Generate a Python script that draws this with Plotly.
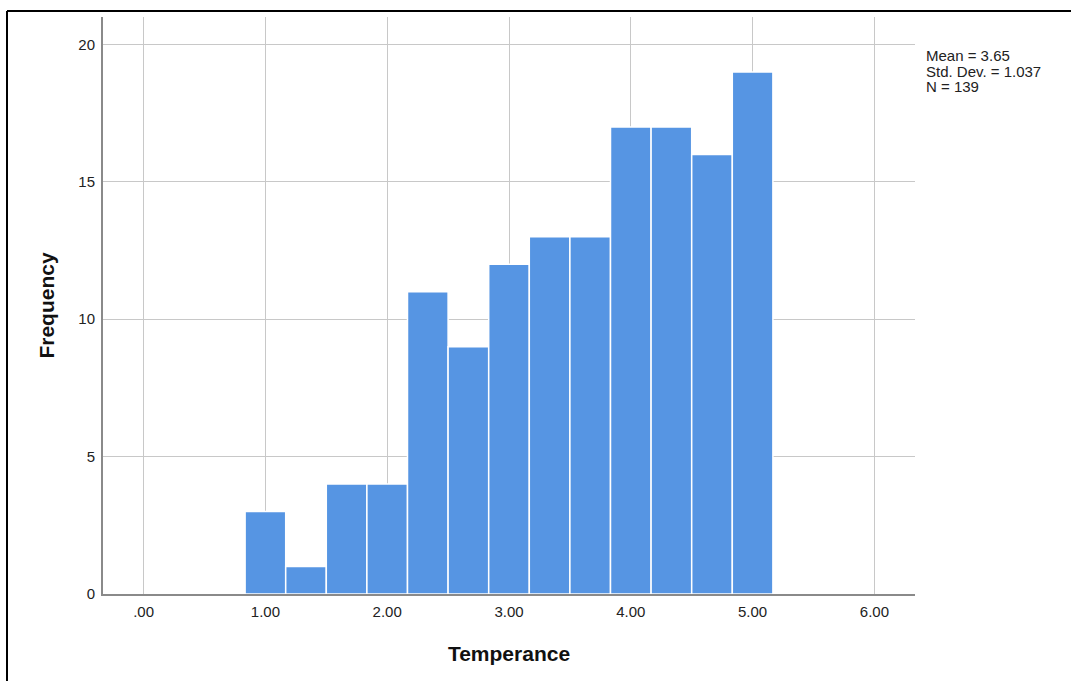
import plotly.graph_objects as go

bin_centers = [1.0, 4/3, 5/3, 2.0, 7/3, 8/3, 3.0, 10/3, 11/3, 4.0, 13/3, 14/3, 5.0]
frequencies = [3, 1, 4, 4, 11, 9, 12, 13, 13, 17, 17, 16, 19]
bin_width = 1/3
x_tick_vals = [0, 1, 2, 3, 4, 5, 6]
x_tick_text = [".00", "1.00", "2.00", "3.00", "4.00", "5.00", "6.00"]
y_tick_vals = [0, 5, 10, 15, 20]
stats_lines = ["Mean = 3.65", "Std. Dev. = 1.037", "N = 139"]

fig = go.Figure()
fig.add_trace(go.Bar(
    x=bin_centers, y=frequencies, width=bin_width,
    marker=dict(color="rgb(86,149,227)", line=dict(color="white", width=1.5)),
    showlegend=False,
))

font_family = "Liberation Sans, Arial, sans-serif"
fig.update_layout(
    width=1071, height=681,
    margin=dict(l=103, r=156, t=17, b=87),
    paper_bgcolor="white", plot_bgcolor="white",
    font=dict(family=font_family, size=15, color="#222"),
    xaxis=dict(
        range=[-1/3, 19/3], tickvals=x_tick_vals, ticktext=x_tick_text,
        showgrid=True, gridcolor="#c8c8c8", gridwidth=1,
        showline=True, linecolor="#8a8a8a", linewidth=2,
        ticks="outside", ticklen=3, tickcolor="rgba(0,0,0,0)",
        zeroline=False,
        title=dict(text="Temperance", font=dict(size=21, color="#111", family="Liberation Sans, Arial", weight="bold"), standoff=27),
    ),
    yaxis=dict(
        range=[0, 21], tickvals=y_tick_vals,
        showgrid=True, gridcolor="#c8c8c8", gridwidth=1,
        showline=True, linecolor="#8a8a8a", linewidth=2,
        ticks="outside", ticklen=3, tickcolor="rgba(0,0,0,0)",
        zeroline=False,
        title=dict(text="Frequency", font=dict(size=21, color="#111", family="Liberation Sans, Arial", weight="bold"), standoff=18),
    ),
)

for i, line in enumerate(stats_lines):
    fig.add_annotation(
        xref="paper", yref="paper", x=(924 - 103) / 812, y=(594 - (56 + 15 * i)) / 577,
        xanchor="left", yanchor="middle", showarrow=False,
        text=line, font=dict(size=15, color="#222", family=font_family),
    )

# outer frame (top and left edges)
fig.add_shape(type="line", xref="paper", yref="paper",
              x0=(7 - 103) / 812, x1=1.3, y0=(594 - 11) / 577, y1=(594 - 11) / 577,
              line=dict(color="black", width=2))
fig.add_shape(type="line", xref="paper", yref="paper",
              x0=(7 - 103) / 812, x1=(7 - 103) / 812, y0=-0.3, y1=(594 - 11) / 577,
              line=dict(color="black", width=2))

fig.write_html("out.html", config={"displayModeBar": False},
               post_script="document.body.style.margin='0';document.body.style.overflow='hidden';")
